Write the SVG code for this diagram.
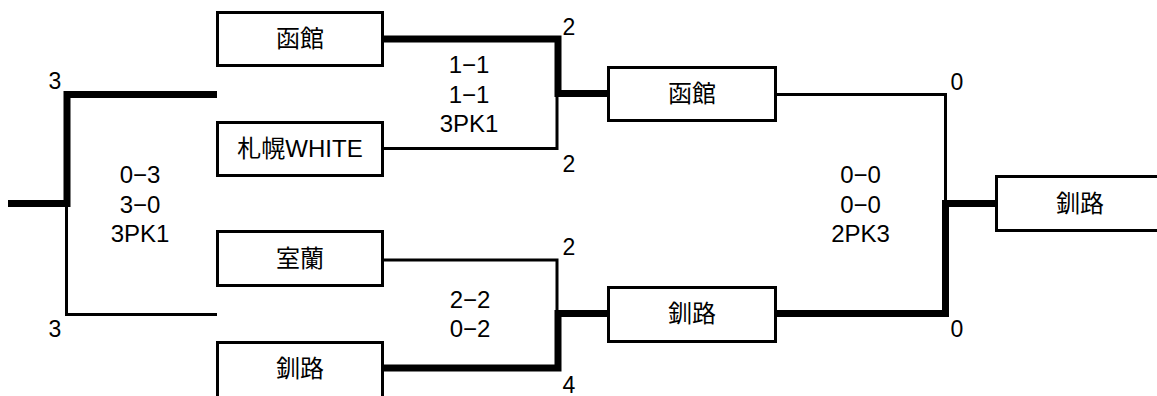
<svg xmlns="http://www.w3.org/2000/svg" width="1157" height="396" viewBox="0 0 1157 396">
<style>
text{font-family:"Liberation Sans","Noto Sans CJK JP",sans-serif;fill:#000}
.box{fill:#fff;stroke:#000;stroke-width:3}
.name{font-size:24px;text-anchor:middle}
.score{font-size:24px;text-anchor:middle}
.lbl{font-size:23px}
.thin{fill:none;stroke:#000;stroke-width:3;stroke-linejoin:miter}
.thick{fill:none;stroke:#000;stroke-width:7;stroke-linejoin:miter}
</style>
<rect width="1157" height="396" fill="#fff"/>
<g id="connectors">
<polyline class="thick" points="8,203.5 67,203.5 67,94.5 217,94.5"/>
<polyline class="thin" points="66.5,206 66.5,314.5 217,314.5"/>
<polyline class="thick" points="384,39 558,39 558,93.5 607,93.5"/>
<polyline class="thin" points="384,148.5 557,148.5 557,96"/>
<polyline class="thin" points="384,260 557,260 557,312"/>
<polyline class="thick" points="384,368 558,368 558,313.5 607,313.5"/>
<polyline class="thin" points="776,94.5 945.5,94.5 945.5,202"/>
<polyline class="thick" points="776,313.5 945.5,313.5 945.5,203.5 996,203.5"/>
</g>
<g id="node-hakodate-r1"><rect class="box" x="217.5" y="12.5" width="165" height="53"/><text class="name" x="300" y="47">函館</text></g>
<g id="node-sapporo-white"><rect class="box" x="217.5" y="122.5" width="165" height="53"/><text class="name" x="300" y="157">札幌WHITE</text></g>
<g id="node-muroran"><rect class="box" x="217.5" y="231.5" width="165" height="54"/><text class="name" x="300" y="267">室蘭</text></g>
<g id="node-kushiro-r1"><rect class="box" x="217.5" y="342.5" width="165" height="80"/><text class="name" x="300" y="377">釧路</text></g>
<g id="node-hakodate-r2"><rect class="box" x="608.5" y="67.5" width="167" height="53"/><text class="name" x="692" y="102">函館</text></g>
<g id="node-kushiro-r2"><rect class="box" x="608.5" y="287.5" width="167" height="54"/><text class="name" x="692" y="322">釧路</text></g>
<g id="node-kushiro-final"><rect class="box" x="996.5" y="176.5" width="200" height="54"/><text class="name" x="1080" y="212">釧路</text></g>
<g id="scores">
<text class="score" x="140" y="183">0−3</text>
<text class="score" x="140" y="213">3−0</text>
<text class="score" x="140" y="242">3PK1</text>
<text class="score" x="469" y="73">1−1</text>
<text class="score" x="469" y="102.5">1−1</text>
<text class="score" x="469" y="132">3PK1</text>
<text class="score" x="470" y="308">2−2</text>
<text class="score" x="470" y="337">0−2</text>
<text class="score" x="860.5" y="183">0−0</text>
<text class="score" x="860.5" y="213">0−0</text>
<text class="score" x="860.5" y="242">2PK3</text>
</g>
<g id="labels">
<text class="lbl" x="48.5" y="89">3</text>
<text class="lbl" x="48.5" y="337">3</text>
<text class="lbl" x="562.5" y="35">2</text>
<text class="lbl" x="562.5" y="172">2</text>
<text class="lbl" x="562.5" y="255">2</text>
<text class="lbl" x="562.5" y="393">4</text>
<text class="lbl" x="950.5" y="90">0</text>
<text class="lbl" x="950.5" y="337">0</text>
</g>
</svg>
